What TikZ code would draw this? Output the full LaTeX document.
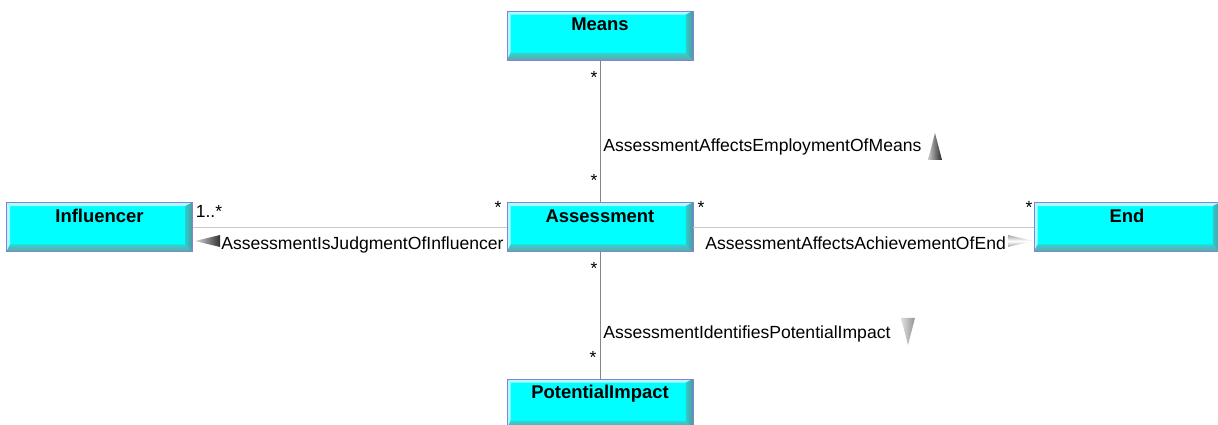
\documentclass[tikz,border=0pt]{standalone}
\usepackage{fontspec}
\setmainfont{Liberation Sans}
\definecolor{boxcyan}{RGB}{0,255,255}
\definecolor{boxlight}{RGB}{175,250,250}
\definecolor{boxshade}{RGB}{100,165,165}
\definecolor{boxside}{RGB}{85,150,155}
\definecolor{boxedge}{RGB}{130,130,215}
\definecolor{linegray}{RGB}{135,135,135}
\definecolor{linelight}{RGB}{200,200,200}

\begin{document}
\begin{tikzpicture}[
	x=0.02cm, y=-0.02cm,
	font=\fontsize{10}{12}\selectfont,
	classbox/.style={
		minimum width=3.72cm, minimum height=0.98cm, inner sep=0pt,
		text height=0.4cm, text depth=0.58cm,
		font=\fontsize{10.5}{12}\selectfont\bfseries,
		fill=boxcyan, draw=boxedge, line width=0.5pt,
		path picture={
			\fill[boxlight] (path picture bounding box.north west) -- (path picture bounding box.north east)
				-- ([xshift=-4pt,yshift=-2pt]path picture bounding box.north east)
				-- ([xshift=2pt,yshift=-2pt]path picture bounding box.north west) -- cycle;
			\fill[boxlight] (path picture bounding box.north west) -- (path picture bounding box.south west)
				-- ([xshift=2pt,yshift=4pt]path picture bounding box.south west)
				-- ([xshift=2pt,yshift=-2pt]path picture bounding box.north west) -- cycle;
			\shade[top color=boxcyan!50!boxshade, bottom color=boxshade] (path picture bounding box.south west) -- (path picture bounding box.south east)
				-- ([xshift=-4pt,yshift=4pt]path picture bounding box.south east)
				-- ([xshift=2pt,yshift=4pt]path picture bounding box.south west) -- cycle;
			\shade[left color=boxcyan!50!boxside, right color=boxside] (path picture bounding box.north east) -- (path picture bounding box.south east)
				-- ([xshift=-4pt,yshift=4pt]path picture bounding box.south east)
				-- ([xshift=-4pt,yshift=-2pt]path picture bounding box.north east) -- cycle;
		}
	},
	assoc/.style={draw=linegray, line width=0.5pt},
	assocside/.style={draw=linelight, line width=0.5pt},
	mult/.style={inner sep=0pt},
	role/.style={inner sep=0pt, anchor=base west},
	]
\useasboundingbox (0,0) rectangle (1218,425);

\node [classbox] (means) at (600,35.5) {Means};
\node [classbox] (influencer) at (99.5,227) {Influencer};
\node [classbox] (assessment) at (600,227) {Assessment};
\node [classbox] (end) at (1127,227) {End};
\node [classbox] (impact) at (600,403.5) {PotentialImpact};

\draw [assoc] (means) -- (assessment);
\draw [assocside] (assessment) -- (influencer);
\draw [assocside] (assessment) -- (end);
\draw [assoc] (assessment) -- (impact);

\node [mult] (m1) at (594,77) {*};
\node [mult] (m2) at (594,180) {*};
\node [mult] (m3) at (209,211) {1..*};
\node [mult] (m4) at (498,207) {*};
\node [mult] (m5) at (701,207) {*};
\node [mult] (m6) at (1029,207) {*};
\node [mult] (m7) at (594,268) {*};
\node [mult] (m8) at (593,357) {*};

\node [role] (r1) at (603,152) {AssessmentAffectsEmploymentOfMeans};
\node [role] (r2) at (221,250) {AssessmentIsJudgmentOfInfluencer};
\node [role] (r3) at (705,250) {AssessmentAffectsAchievementOfEnd};
\node [role] (r4) at (603,339) {AssessmentIdentifiesPotentialImpact};

\shade [left color=gray!40, right color=black!85] (935,133) -- (942,160) -- (928,160) -- cycle;
\shade [left color=gray!30, right color=black!80] (195,241) -- (220,235) -- (220,247) -- cycle;
\shade [top color=gray!70, bottom color=gray!70, middle color=white] (1008,235) -- (1033,241) -- (1008,247) -- cycle;
\shade [left color=gray!25, right color=gray!85] (901,318) -- (915,318) -- (908,345) -- cycle;
\end{tikzpicture}
\end{document}
